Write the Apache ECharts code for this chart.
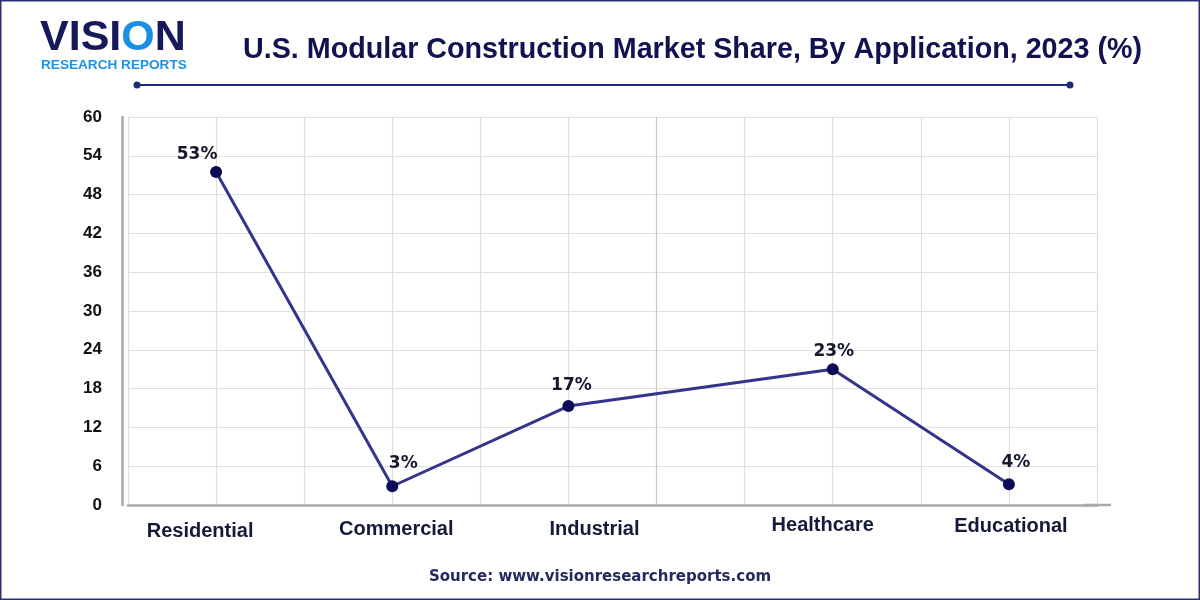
<!DOCTYPE html>
<html>
<head>
<meta charset="utf-8">
<style>
html,body{margin:0;padding:0;background:#fff;}
#chart{width:1200px;height:600px;}
</style>
<script src="https://cdn.jsdelivr.net/npm/echarts@6/dist/echarts.min.js"></script>
</head>
<body>
<div id="chart"></div>
<script>
// Data (blank slots reproduce the uneven horizontal spacing of the reference)
const categories = ['', 'Residential', '', 'Commercial', '', 'Industrial', '', '', 'Healthcare', '', 'Educational', ''];
const shareValues = [null, 51.5, null, 2.9, null, 15.3, null, null, 21.0, null, 3.2, null];
const shareLabels = ['', '53%', '', '3%', '', '17%', '', '', '23%', '', '4%', ''];
const yMin = 0, yMax = 60, yInterval = 6;
const titleText = 'U.S. Modular Construction Market Share, By Application, 2023 (%)';
const sourceText = 'Source: www.visionresearchreports.com';

const chart = echarts.init(document.getElementById('chart'));
const FONT = '"Liberation Sans", Arial, sans-serif';
const WIDE = '"DejaVu Sans", sans-serif';
const NAVY = '#11124f';

const gridColors = categories.map((c, i) => i === 6 ? '#c9c9c9' : '#e0e0e0');

// per-label nudges (styling only)
const catStyleKey = { 'Residential': 'r0', 'Commercial': 'r1', 'Industrial': 'r2', 'Healthcare': 'r3', 'Educational': 'r4' };
const catTextBase = { fontFamily: FONT, fontWeight: 'bold', fontSize: 20, color: '#161a3a' };
const valStyleKey = { '53%': 'v0', '3%': 'v1', '17%': 'v2', '23%': 'v3', '4%': 'v4' };
const valTextBase = { fontFamily: WIDE, fontWeight: 'bold', fontSize: 17, color: '#15172e' };

chart.setOption({
  backgroundColor: '#ffffff',
  animation: false,
  title: {
    text: titleText,
    left: 238,
    top: 31,
    textStyle: { fontFamily: FONT, fontWeight: 'bold', fontSize: 28.7, color: NAVY }
  },
  grid: { left: 128, right: 103, top: 117, bottom: 95, containLabel: false },
  xAxis: {
    type: 'category',
    data: categories,
    boundaryGap: false,
    axisLine: {
      show: true,
      lineStyle: { color: '#aaaaaa', width: 2.5 },
      symbol: ['none', 'rect'],
      symbolSize: [2.5, 28]
    },
    axisTick: { show: false },
    splitLine: { show: true, interval: 0, lineStyle: { color: gridColors, width: 1.2 } },
    axisLabel: {
      interval: 0,
      margin: 10,
      formatter: v => v ? '{' + catStyleKey[v] + '|' + v + '}' : '',
      rich: {
        r0: Object.assign({}, catTextBase, { padding: [6, 32, 0, 0] }),
        r1: Object.assign({}, catTextBase, { padding: [4, 0, 0, 8] }),
        r2: Object.assign({}, catTextBase, { padding: [4, 0, 0, 52] }),
        r3: Object.assign({}, catTextBase, { padding: [0, 20, 0, 0] }),
        r4: Object.assign({}, catTextBase, { padding: [1, 0, 0, 4] })
      }
    }
  },
  yAxis: {
    type: 'value',
    min: yMin, max: yMax, interval: yInterval,
    offset: 6,
    axisLine: { show: true, lineStyle: { color: '#aaaaaa', width: 2.5 } },
    axisTick: { show: false },
    splitLine: { show: true, lineStyle: { color: '#e0e0e0', width: 1.2 } },
    axisLabel: { margin: 20, fontFamily: FONT, fontWeight: 'bold', fontSize: 17, color: '#111111' }
  },
  series: [{
    type: 'line',
    data: shareValues,
    connectNulls: true,
    symbol: 'circle',
    symbolSize: 12,
    lineStyle: { color: '#34348a', width: 3 },
    itemStyle: { color: '#0b0c55' },
    label: {
      show: true,
      position: 'top',
      distance: 3,
      formatter: p => shareLabels[p.dataIndex] ? '{' + valStyleKey[shareLabels[p.dataIndex]] + '|' + shareLabels[p.dataIndex] + '}' : '',
      rich: {
        v0: Object.assign({}, valTextBase, { padding: [0, 38, 0, 0] }),
        v1: Object.assign({}, valTextBase, { padding: [0, 0, 5, 22] }),
        v2: Object.assign({}, valTextBase, { padding: [0, 0, 3, 6] }),
        v3: Object.assign({}, valTextBase, { padding: [0, 0, 0, 2] }),
        v4: Object.assign({}, valTextBase, { padding: [0, 0, 4, 14] })
      }
    },
    z: 5
  }],
  graphic: [
    // outer border
    { type: 'rect', shape: { x: 0.75, y: 0.75, width: 1198.5, height: 598.5 }, style: { fill: 'none', stroke: '#2b2f6e', lineWidth: 1.5 }, silent: true },
    // title underline with end dots
    { type: 'line', shape: { x1: 137, y1: 85, x2: 1070, y2: 85 }, style: { stroke: '#1f2a78', lineWidth: 2 }, silent: true },
    { type: 'circle', shape: { cx: 137, cy: 85, r: 3.5 }, style: { fill: '#1f2a78' }, silent: true },
    { type: 'circle', shape: { cx: 1070, cy: 85, r: 3.5 }, style: { fill: '#1f2a78' }, silent: true },
    // logo
    {
      type: 'text', left: 40, top: 17, silent: true,
      style: {
        text: '{a|VISI}{b|O}{a|N}',
        rich: {
          a: { fontFamily: FONT, fontWeight: 'bold', fontSize: 43, fill: '#16195a' },
          b: { fontFamily: FONT, fontWeight: 'bold', fontSize: 43, fill: '#1a8fe3' }
        }
      }
    },
    {
      type: 'text', left: 41, top: 58, silent: true,
      style: { text: 'RESEARCH REPORTS', fontFamily: FONT, fontWeight: 'bold', fontSize: 13.6, fill: '#1e93e6' }
    },
    // source
    {
      type: 'text', left: 'center', top: 570, silent: true,
      style: { text: sourceText, fontFamily: WIDE, fontWeight: 'bold', fontSize: 15, fill: '#262a5c' }
    }
  ]
});
</script>
</body>
</html>
